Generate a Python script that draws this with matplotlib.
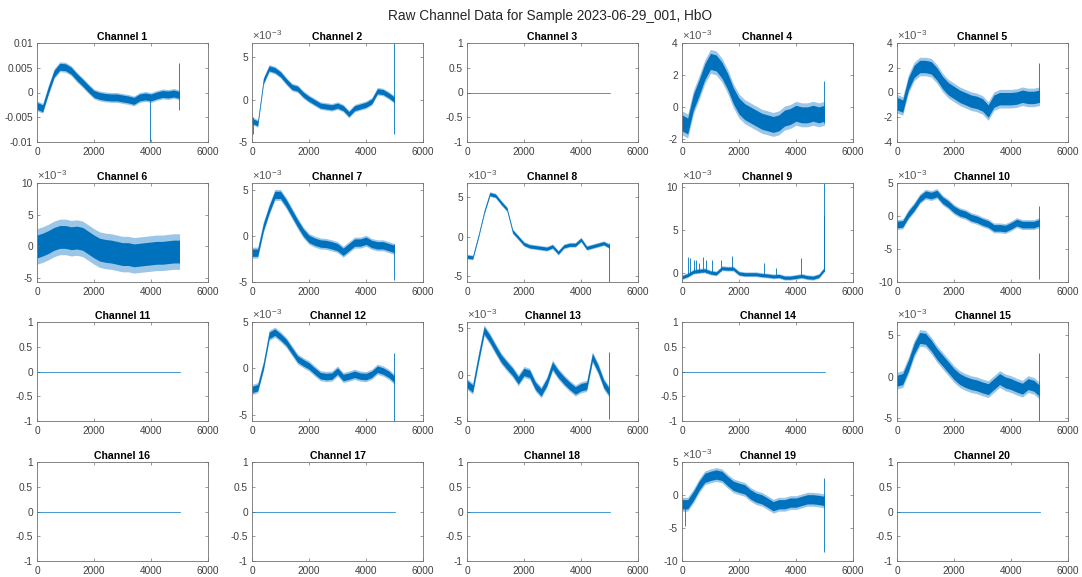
import matplotlib.pyplot as plt
import numpy as np
from matplotlib.ticker import FuncFormatter

plt.rcParams['font.family'] = ['Liberation Sans', 'DejaVu Sans']
plt.rcParams['mathtext.fontset'] = 'custom'
plt.rcParams['mathtext.rm'] = 'Liberation Sans'
plt.rcParams['mathtext.it'] = 'Liberation Sans:italic'

sample_id = '2023-06-29_001'
signal = 'HbO'
n_samples = 5000

# channel traces sampled every 200 points, values in units of 1e-3
t = np.arange(0, n_samples + 1, 200)

ch1 = [-2.7, -3.2, 0.5, 3.8, 5.2, 5.1, 4.4, 3.1, 2.0, 0.8, -0.3, -0.7, -0.9,
       -1.0, -1.0, -1.2, -1.4, -1.7, -1.0, -0.8, -1.0, -0.6, -0.3, -0.4, -0.2, -0.5]
ch2 = [-2.5, -2.8, 2.2, 3.7, 3.5, 3.0, 2.2, 1.5, 1.3, 0.6, 0.1, -0.3, -0.7,
       -0.8, -0.9, -0.7, -1.0, -1.7, -1.0, -0.8, -0.6, -0.2, 1.0, 0.9, 0.5, 0.0]
ch4 = [-1.0, -1.2, 0.3, 1.2, 2.2, 2.85, 2.75, 2.3, 1.6, 0.7, 0.05, -0.3, -0.5,
       -0.7, -0.9, -1.0, -1.1, -1.0, -0.7, -0.6, -0.4, -0.5, -0.5, -0.4, -0.5, -0.4]
ch5 = [-0.9, -1.1, 0.7, 1.7, 2.1, 2.1, 2.0, 1.5, 0.8, 0.3, 0.0, -0.3, -0.5,
       -0.7, -0.8, -1.0, -1.5, -0.7, -0.5, -0.5, -0.5, -0.45, -0.3, -0.4, -0.4, -0.3]
ch6 = [0.0, 0.3, 0.7, 1.2, 1.5, 1.5, 1.3, 1.4, 1.2, 0.6, 0.0, -0.5, -0.7,
       -0.8, -1.0, -1.2, -1.2, -1.4, -1.3, -1.2, -1.1, -1.0, -1.0, -0.9, -0.8, -0.8]
ch7 = [-1.8, -1.8, 1.0, 2.9, 4.5, 4.5, 3.6, 2.5, 1.4, 0.4, -0.3, -0.6, -0.8,
       -0.85, -1.0, -1.2, -1.7, -1.2, -0.7, -0.7, -0.5, -0.85, -1.0, -1.0, -1.2, -1.4]
ch8 = [-2.5, -2.6, 0.1, 3.1, 5.4, 5.2, 4.3, 3.5, 0.7, -0.1, -0.9, -1.2, -1.3,
       -1.4, -1.5, -1.2, -2.0, -1.2, -1.0, -1.0, -0.35, -1.4, -1.2, -1.0, -0.8, -1.2]
ch9 = [-0.45, -0.2, 0.2, 0.3, 0.35, 0.1, 0.0, 0.6, 0.55, 0.55, 0.0, -0.1, -0.1,
       -0.1, -0.2, -0.25, -0.35, -0.3, -0.5, -0.5, -0.4, -0.3, -0.45, -0.5, -0.3, 0.5]
ch10 = [-1.3, -1.2, 0.25, 1.3, 2.6, 3.3, 3.1, 3.4, 2.4, 1.8, 1.0, 0.5, 0.25,
        -0.25, -0.5, -0.9, -1.2, -1.8, -1.8, -1.9, -1.5, -1.0, -1.3, -1.3, -1.3, -1.0]
ch12 = [-2.3, -2.1, 0.25, 3.55, 3.9, 3.4, 2.8, 1.9, 1.0, 0.6, 0.25, -0.3, -0.8,
        -0.9, -0.85, -0.3, -1.0, -0.85, -0.65, -0.85, -0.9, -0.65, -0.1, -0.3, -0.65, -1.2]
ch13 = [-1.0, -1.5, 1.75, 4.8, 3.9, 2.8, 1.75, 1.0, 0.3, -0.6, 0.3, 0.1, -1.2,
        -1.9, -0.8, 1.0, 0.1, -0.6, -1.2, -1.7, -1.35, -1.2, 1.9, 0.65, -1.0, -1.9]
ch15 = [-0.5, -0.3, 1.3, 3.3, 4.6, 4.5, 3.7, 2.7, 1.9, 1.1, 0.3, -0.3, -0.65,
        -0.9, -1.05, -1.3, -1.5, -0.9, -0.3, -0.7, -0.9, -1.2, -1.45, -0.9, -1.1, -1.7]
ch19 = [-1.4, -1.4, -0.15, 1.4, 2.6, 2.9, 3.1, 2.9, 2.1, 1.4, 1.1, 0.85, 0.1,
        -0.4, -0.65, -1.15, -1.7, -1.4, -1.4, -1.15, -1.15, -0.9, -0.65, -0.65, -0.75, -0.9]

# channels with no signal (all zeros)
flat_channels = [3, 11, 14, 16, 17, 18, 20]

# half-width of the dense noise band and of its outer peaks (1e-3)
noise_core = {1: 0.7, 2: 0.3, 4: 0.5, 5: 0.5, 6: 1.8, 7: 0.4, 8: 0.2,
              9: 0.18, 10: 0.5, 12: 0.35, 13: 0.4, 15: 0.65, 19: 0.7}
noise_peak = {1: 1.0, 2: 0.45, 4: 0.75, 5: 0.75, 6: 2.8, 7: 0.6, 8: 0.3,
              9: 0.28, 10: 0.75, 12: 0.55, 13: 0.6, 15: 1.0, 19: 1.05}

# single-sample artefacts: (channel, sample, low, high) in 1e-3
spikes = [(1, 3950, -10.0, -1.0), (1, 4985, -3.5, 6.0),
          (2, 20, -4.0, -2.0), (2, 4985, -4.0, 6.7),
          (4, 4995, -1.0, 1.6), (5, 4995, -0.8, 2.4),
          (7, 4990, -4.8, -0.8), (8, 4990, -5.7, -0.8),
          (9, 210, -0.3, 1.9), (9, 290, -0.2, 1.8), (9, 410, 0.0, 1.5),
          (9, 490, 0.1, 1.5), (9, 585, 0.1, 1.2), (9, 740, 0.2, 1.9),
          (9, 855, 0.1, 1.6), (9, 1050, 0.0, 1.5), (9, 1380, 0.3, 1.5),
          (9, 1755, 0.4, 2.0), (9, 2865, -0.2, 1.2), (9, 3300, -0.4, 0.6),
          (9, 4175, -0.4, 1.8), (9, 4970, 0.3, 10.5), (9, 4995, 0.3, 6.8),
          (10, 4990, -9.5, 1.5), (12, 4990, -5.7, 1.6), (13, 4990, -4.8, 2.5),
          (15, 4990, -5.3, 2.8), (19, 100, -4.7, -1.4), (19, 4985, -8.7, 2.6)]

traces = {1: ch1, 2: ch2, 4: ch4, 5: ch5, 6: ch6, 7: ch7, 8: ch8, 9: ch9,
          10: ch10, 12: ch12, 13: ch13, 15: ch15, 19: ch19}

# axis limits and ticks (1e-3 units for scaled channels)
ylims = {1: (-10, 10), 2: (-5, 6.7), 4: (-2.2, 4), 5: (-4, 4), 6: (-5.6, 10),
         7: (-5, 5.8), 8: (-5.7, 6.8), 9: (-1, 10.5), 10: (-10, 5),
         12: (-5.7, 5), 13: (-5, 5.7), 15: (-5.3, 6.5), 19: (-10, 5)}
yticks = {1: [-10, -5, 0, 5, 10], 2: [-5, 0, 5], 4: [-2, 0, 2, 4],
          5: [-4, -2, 0, 2, 4], 6: [-5, 0, 5, 10], 7: [-5, 0, 5], 8: [-5, 0, 5],
          9: [0, 5, 10], 10: [-10, -5, 0, 5], 12: [-5, 0, 5], 13: [-5, 0, 5],
          15: [-5, 0, 5], 19: [-10, -5, 0, 5]}

blue = '#0072BD'
fringe = '#9cc6e8'
ink = '#262626'
box = '#707070'
scale = 1e-3

W, H = 1082, 577
lefts = [37, 252, 467, 682, 897]
tops = [43, 183, 322, 462]
aw, ah = 171, 99

fig = plt.figure(figsize=(W / 100, H / 100), dpi=100)
fig.text(0.508, 0.972, f'Raw Channel Data for Sample {sample_id}, {signal}',
         ha='center', va='center', fontsize=9.8, color=ink)

for ch in range(1, 21):
    r, c = divmod(ch - 1, 5)
    ax = fig.add_axes([lefts[c] / W, 1 - (tops[r] + ah) / H, aw / W, ah / H])

    if ch in flat_channels:
        ax.plot([0, n_samples], [0, 0], color=blue, lw=0.5)
        ax.set_ylim(-1, 1)
        ax.set_yticks([-1, -0.5, 0, 0.5, 1])
        ax.yaxis.set_major_formatter(FuncFormatter(lambda v, p: '%g' % v))
    else:
        mid = np.array(traces[ch]) * scale
        core = noise_core[ch] * scale
        peak = noise_peak[ch] * scale
        ax.fill_between(t, mid - peak, mid + peak, color=fringe, lw=0)
        ax.fill_between(t, mid - core, mid + core, color=blue, lw=0)
        for sch, sx, lo, hi in spikes:
            if sch == ch:
                ax.vlines(sx, lo * scale, hi * scale, color=blue, lw=0.6)
        lo, hi = ylims[ch]
        ax.set_ylim(lo * scale, hi * scale)
        ax.set_yticks(np.array(yticks[ch]) * scale)
        if ch == 1:
            ax.yaxis.set_major_formatter(
                FuncFormatter(lambda v, p: '%g' % round(v, 6)))
        else:
            ax.yaxis.set_major_formatter(
                FuncFormatter(lambda v, p: '%g' % round(v / scale, 6)))
            ax.text(0.0, 1.012, r'$\times10^{-3}$', transform=ax.transAxes,
                    ha='left', va='bottom', fontsize=8.2, color='#555555')

    ax.set_xlim(0, 6000)
    ax.set_xticks([0, 2000, 4000, 6000])
    ax.tick_params(direction='in', top=True, right=True, length=2.5,
                   width=0.5, labelsize=7.3, pad=3.5, colors=box,
                   labelcolor='#404040')
    ax.tick_params(axis='y', pad=3)
    for s in ax.spines.values():
        s.set_linewidth(0.6)
        s.set_color(box)
    ax.set_title(f'Channel {ch}', fontsize=7.6, fontweight='bold', pad=2.5,
                 color='black')

fig.savefig('out.png', dpi=100)
